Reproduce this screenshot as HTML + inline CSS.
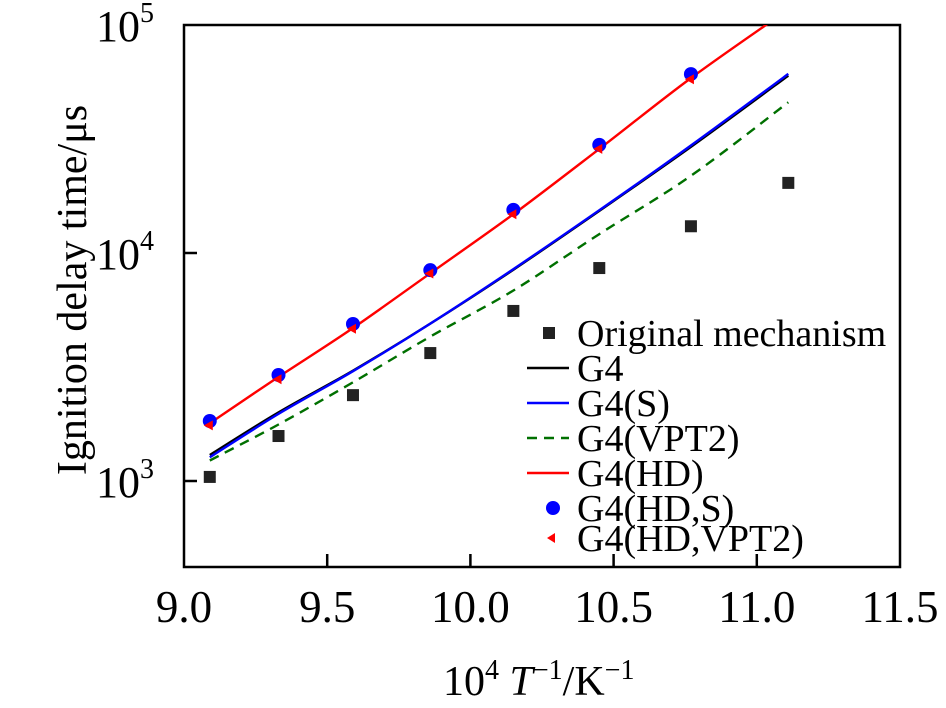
<!DOCTYPE html>
<html><head><meta charset="utf-8"><style>
body{margin:0;background:#fff}
svg{display:block;font-family:"Liberation Serif",serif}
</style></head><body>
<svg id="chart" width="946" height="708" viewBox="0 0 946 708" xmlns="http://www.w3.org/2000/svg"></svg>
<script>
const xs = [9.09, 9.33, 9.59, 9.86, 10.15, 10.45, 10.77, 11.11];
const original = [1042, 1575, 2380, 3640, 5570, 8590, 13100, 20300];
const g4 = [1300, 2000, 3050, 4900, 8450, 15300, 29200, 60000];
const g4s = [1270, 1970, 3030, 4900, 8500, 15400, 29600, 61000];
const g4vpt2 = [1230, 1770, 2710, 4300, 6850, 12100, 21800, 45800];
const g4hd = [1790, 2860, 4690, 8150, 14800, 28600, 58500, 117000];
const hdsX = [9.09, 9.33, 9.59, 9.86, 10.15, 10.45, 10.77];
const g4hds = [1833, 2917, 4885, 8410, 15460, 29800, 60900];
const g4hdvpt2 = [1790, 2850, 4750, 8300, 15100, 29200, 59000];
const xTicks = [9.0, 9.5, 10.0, 10.5, 11.0, 11.5];
const yTicks = [3, 4, 5];

const NS = "http://www.w3.org/2000/svg";
const svg = document.getElementById('chart');
const L=184, R=900, T=25, B=567;
const xS = v => L + (v - 9.0) / 2.5 * (R - L);
const yS = v => T + (5 - Math.log10(v)) * 228;
function mk(tag, attrs, parent){const e=document.createElementNS(NS,tag);for(const k in attrs)e.setAttribute(k,attrs[k]);(parent||svg).appendChild(e);return e;}

const defs = mk('defs',{});
const cp = mk('clipPath',{id:'clip'},defs);
mk('rect',{x:L,y:T,width:R-L,height:B-T},cp);

const frame = mk('rect',{x:L,y:T,width:R-L,height:B-T,fill:'none',stroke:'#000','stroke-width':2.5});



xTicks.forEach(t=>{
  const x=xS(t);
  if(t>9.0&&t<11.5){const tk=mk('line',{x1:x,x2:x,y1:B,y2:B-13,stroke:'#000','stroke-width':2.5});
  
  }
  const lb=mk('text',{x:x,y:622,'font-size':45,'text-anchor':'middle'});
  lb.textContent=t.toFixed(1);
  
  
});
yTicks.forEach(p=>{
  const y=yS(Math.pow(10,p));
  if(p<5){const tk=mk('line',{x1:L,x2:L+13,y1:y,y2:y,stroke:'#000','stroke-width':2.5});
  
  }
  const lb=mk('text',{x:154,y:y+16,'font-size':44,'text-anchor':'end'});
  lb.innerHTML='10<tspan dy="-19" font-size="28">'+p+'</tspan>';
  
  
});

function line(vals,color,dash,name){
  const pts=vals.map((v,i)=>[xS(xs[i]),yS(v)]);
  let d='M'+pts[0][0].toFixed(1)+','+pts[0][1].toFixed(1);
  for(let i=0;i<pts.length-1;i++){
    const p0=pts[Math.max(0,i-1)],p1=pts[i],p2=pts[i+1],p3=pts[Math.min(pts.length-1,i+2)];
    const c1=[p1[0]+(p2[0]-p0[0])/6,p1[1]+(p2[1]-p0[1])/6];
    const c2=[p2[0]-(p3[0]-p1[0])/6,p2[1]-(p3[1]-p1[1])/6];
    d+=` C${c1[0].toFixed(1)},${c1[1].toFixed(1)} ${c2[0].toFixed(1)},${c2[1].toFixed(1)} ${p2[0].toFixed(1)},${p2[1].toFixed(1)}`;
  }
  const p=mk('path',{d:d,fill:'none',stroke:color,'stroke-width':2.4,'clip-path':'url(#clip)'});
  if(dash)p.setAttribute('stroke-dasharray',dash);
  
  
}
line(g4vpt2,'#007000','10,7','line-g4-vpt2');
line(g4,'#000','', 'line-g4');
line(g4s,'#0000ff','','line-g4-s');
line(g4hd,'#ff0000','','line-g4-hd');

original.forEach((v,i)=>{
  const r=mk('rect',{x:xS(xs[i])-6,y:yS(v)-6,width:12,height:12,fill:'#222'});
  
  
});
g4hds.forEach((v,i)=>{
  const c=mk('circle',{cx:xS(hdsX[i]),cy:yS(v),r:7,fill:'#0000ff'});
  
  
});
g4hdvpt2.forEach((v,i)=>{
  const x=xS(hdsX[i]),y=yS(v)+2;
  const t=mk('polygon',{points:`${x-6},${y} ${x+3},${y-5} ${x+3},${y+5}`,fill:'#ff0000'});
  
  
});

const leg=[['Original mechanism','sq'],['G4','#000'],['G4(S)','#0000ff'],['G4(VPT2)','dash'],['G4(HD)','#ff0000'],['G4(HD,S)','circ'],['G4(HD,VPT2)','tri']];
const legY=[333,368,403,438,473,508,538];
const lg=mk('g',{});


leg.forEach((e,i)=>{
  const y=legY[i];
  const g=mk('g',{},lg);
  
  
  if(e[1]==='sq')mk('rect',{x:543,y:y-6,width:12,height:12,fill:'#222'},g);
  else if(e[1]==='circ')mk('circle',{cx:553,cy:y,r:7,fill:'#0000ff'},g);
  else if(e[1]==='tri')mk('polygon',{points:`547,${y} 555,${y-5} 555,${y+5}`,fill:'#ff0000'},g);
  else if(e[1]==='dash')mk('line',{x1:527,x2:569,y1:y,y2:y,stroke:'#007000','stroke-width':2.4,'stroke-dasharray':'10,7'},g);
  else mk('line',{x1:527,x2:569,y1:y,y2:y,stroke:e[1],'stroke-width':2.4},g);
  const t=mk('text',{x:577,y:y+13,'font-size':38},g);
  t.textContent=e[0];
});

const xt=mk('text',{x:443,y:695,'font-size':42});
xt.innerHTML='10<tspan dy="-16" font-size="28">4</tspan><tspan dy="16"> </tspan><tspan font-style="italic">T</tspan><tspan dy="-16" font-size="28">−1</tspan><tspan dy="16">/K</tspan><tspan dy="-16" font-size="28">−1</tspan>';


const yt=mk('text',{x:0,y:0,'font-size':42,'text-anchor':'middle',transform:'translate(86,290) rotate(-90)'});
yt.textContent='Ignition delay time/μs';


</script>
</body></html>
